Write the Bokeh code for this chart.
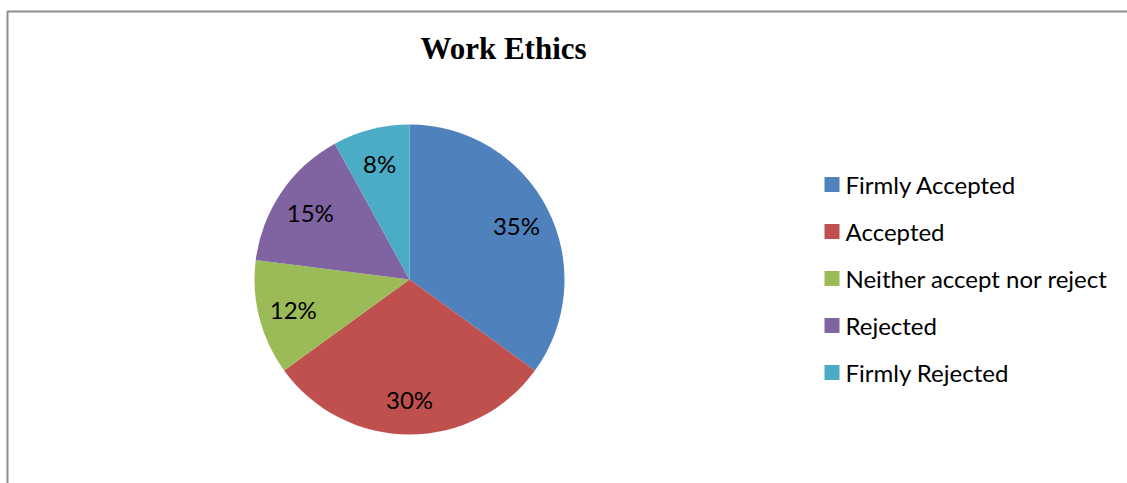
import numpy as np
from bokeh.plotting import figure
from bokeh.models import Range1d, ColumnDataSource
from bokeh.core.properties import value
from bokeh.embed import file_html
from bokeh.resources import INLINE

# Survey results
categories = ["Firmly Accepted", "Accepted", "Neither accept nor reject", "Rejected", "Firmly Rejected"]
shares = [35, 30, 12, 15, 8]
colors = ["#4F81BD", "#C0504D", "#9BBB59", "#8064A2", "#4BACC6"]
title_text = "Work Ethics"

W, H = 1127, 483


def sy(y):
    # convert a top-down pixel row to the figure's bottom-up y coordinate
    return H - y


p = figure(width=W, height=H, x_range=Range1d(0, W), y_range=Range1d(0, H),
           output_backend="svg", toolbar_location=None, min_border=0)
p.axis.visible = False
p.grid.visible = False
p.outline_line_color = None
p.background_fill_color = "white"
p.border_fill_color = "white"

# chart area frame (continues past the right and bottom edges)
p.line(x=[7, 7, W + 5], y=[sy(H + 5), sy(11), sy(11)], line_color="#8c8c8c", line_width=2)

# pie, clockwise from 12 o'clock
cx, cy, r = 409, sy(279), 155
vals = np.array(shares, dtype=float)
frac = vals / vals.sum()
cum = np.concatenate([[0], np.cumsum(frac)])
start = np.pi / 2 - cum[:-1] * 2 * np.pi
end = np.pi / 2 - cum[1:] * 2 * np.pi
mid = (start + end) / 2

src = ColumnDataSource(dict(start=start, end=end, color=colors,
                            x=[cx] * len(shares), y=[cy] * len(shares)))
p.wedge(x="x", y="y", radius=r, start_angle="end", end_angle="start",
        fill_color="color", line_color=None, source=src)

lr = 120
lab = ColumnDataSource(dict(
    x=cx + lr * np.cos(mid),
    y=cy + lr * np.sin(mid),
    t=[f"{v}%" for v in shares],
))
p.text(x="x", y="y", text="t", source=lab, text_align="center", text_baseline="middle",
       text_font=value("Lato"), text_font_size="24px", text_color="#000000")

# title
p.text(x=[503], y=[sy(48)], text=[title_text], text_align="center", text_baseline="middle",
       text_font=value("Liberation Serif"), text_font_style="bold",
       text_font_size="31px", text_color="#000000")

# legend
rows = [sy(184 + 47 * i) for i in range(len(categories))]
leg = ColumnDataSource(dict(y=rows, name=categories, color=colors))
p.rect(x=831.5, y="y", width=15, height=15, fill_color="color", line_color=None, source=leg)
p.text(x=845, y="y", text="name", source=leg, text_align="left", text_baseline="middle",
       text_font=value("Lato"), text_font_size="24px", text_color="#000000")

open("out.html", "w").write(file_html(p, INLINE))
